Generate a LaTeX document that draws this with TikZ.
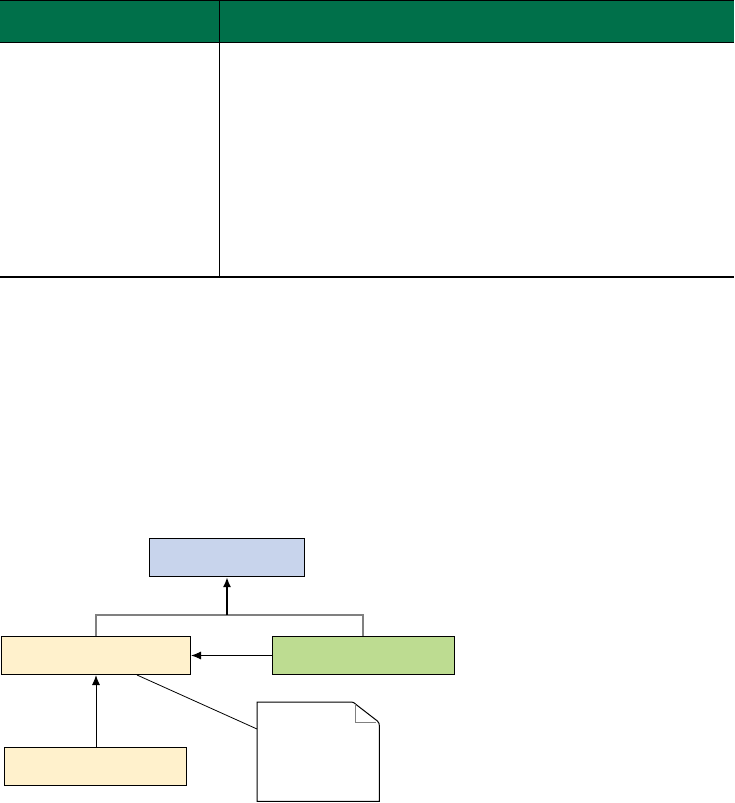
\documentclass[tikz,border=0pt]{standalone}
\usetikzlibrary{arrows.meta}
\definecolor{hdrgreen}{HTML}{00704A}
\definecolor{boxblue}{HTML}{C8D4EC}
\definecolor{boxyellow}{HTML}{FFF1CC}
\definecolor{boxgreen}{HTML}{BDDC91}
\definecolor{linkgray}{HTML}{808080}
\begin{document}
\begin{tikzpicture}[x=1pt,y=-1pt,
  box/.style={draw=black,line width=1pt,rectangle,inner sep=0pt,anchor=north west},
  link/.style={draw=black,line width=1pt,-{Latex[length=10pt,width=8pt]}},
  biglink/.style={draw=black,line width=2pt,-{Latex[length=10pt,width=8pt]}},
  forkline/.style={draw=linkgray,line width=1.2pt}]
  \useasboundingbox (0,0) rectangle (734,803);
  % table header and grid
  \fill[hdrgreen] (0,0) rectangle (734,42);
  \draw[line width=1pt] (0,0.5) -- (734,0.5);
  \draw[line width=1pt] (0,42) -- (734,42);
  \draw[line width=1pt] (219,0) -- (219,277);
  \draw[line width=1.3pt] (0,277) -- (734,277);
  % boxes
  \node[box,fill=boxblue,minimum width=155pt,minimum height=38pt] (base) at (149,538) {};
  \node[box,fill=boxyellow,minimum width=189.5pt,minimum height=38pt] (left) at (0.5,636) {};
  \node[box,fill=boxgreen,minimum width=182pt,minimum height=38pt] (right) at (272,636) {};
  \node[box,fill=boxyellow,minimum width=182pt,minimum height=38pt] (bottom) at (4,747) {};
  % note with folded corner
  \node[rectangle,inner sep=0pt,minimum width=122pt,minimum height=99pt,anchor=north west] (note) at (257,702) {};
  \draw[line width=1pt,fill=white] (note.north west) -- ([xshift=-28pt]note.north east)
    to[out=0,in=135] ([xshift=-24pt,yshift=-2pt]note.north east)
    -- ([yshift=-19pt,xshift=-2pt]note.north east)
    to[out=-45,in=90] ([yshift=-24pt]note.north east)
    -- (note.south east) -- (note.south west) -- cycle;
  \draw[linkgray,line width=1pt] ([xshift=-24pt,yshift=-2pt]note.north east) -- ([xshift=-24pt,yshift=-20pt]note.north east) -- ([xshift=-3pt,yshift=-20pt]note.north east);
  % connectors
  \coordinate (fork) at (base.south |- 0,615);
  \draw[forkline] (left.north -| 96,0) |- (fork) -| (right.north -| 363,0);
  \draw[biglink] (fork) -- (base.south);
  \draw[link] (right.west) -- (left.east);
  \draw[link] (bottom.north -| 96,0) -- (left.south -| 96,0);
  \draw[line width=0.8pt] (left.south -| 137,0) -- (note.west |- 0,729);
\end{tikzpicture}
\end{document}
